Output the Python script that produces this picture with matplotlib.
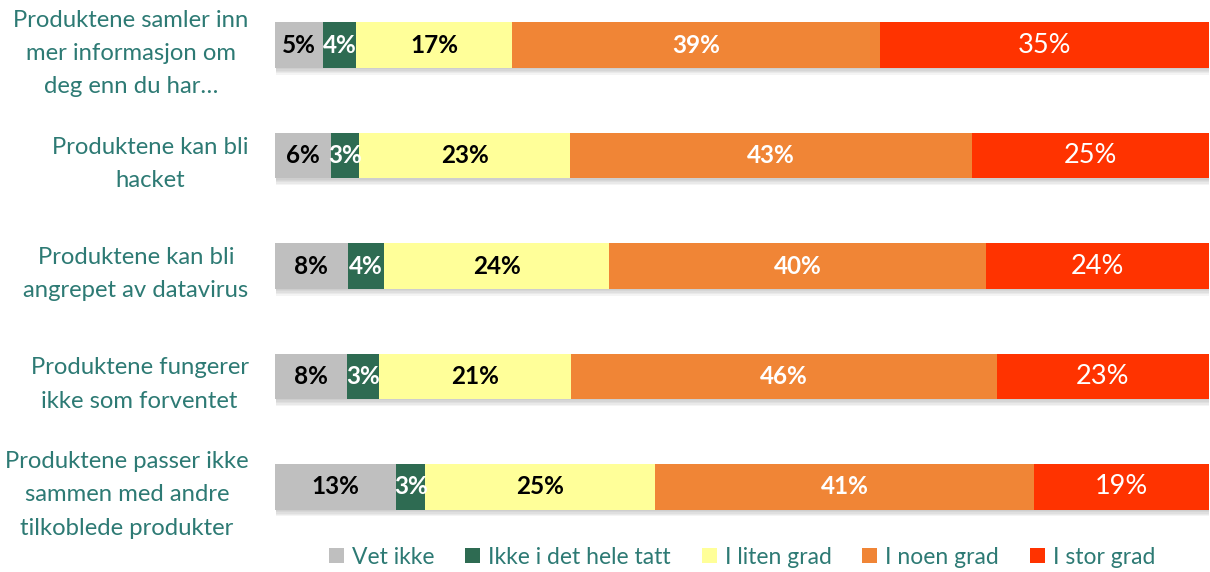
import matplotlib.pyplot as plt
import matplotlib.patheffects as pe

plt.rcParams['font.family'] = ['Lato', 'DejaVu Sans']

# spørsmål (rader, ovenfra og ned)
questions = [
    'Produktene samler inn\nmer informasjon om\ndeg enn du har…',
    'Produktene kan bli\nhacket',
    'Produktene kan bli\nangrepet av datavirus',
    'Produktene fungerer\nikke som forventet',
    'Produktene passer ikke\nsammen med andre\ntilkoblede produkter',
]
series = ['Vet ikke', 'Ikke i det hele tatt', 'I liten grad', 'I noen grad', 'I stor grad']
vet_ikke = [5.1, 6.0, 7.8, 7.7, 13.0]
ikke_i_det_hele_tatt = [3.6, 3.0, 3.9, 3.4, 3.1]
i_liten_grad = [16.7, 22.6, 24.1, 20.6, 24.6]
i_noen_grad = [39.4, 43.0, 40.3, 45.6, 40.6]
i_stor_grad = [35.2, 25.4, 23.9, 22.7, 18.7]

colors = ['#BFBFBF', '#2E6B52', '#FFFF99', '#F08536', '#FF3300']
txt_colors = ['black', 'white', 'black', 'white', 'white']
txt_weight = ['bold', 'bold', 'bold', 'bold', 'normal']
txt_size = [17.5, 17.5, 17.5, 17.5, 19.5]
teal = '#2D7A74'

fig = plt.figure(figsize=(12.1, 5.72), dpi=100)
ax = fig.add_axes([275 / 1210, 1 - 520 / 572, 1 - 275 / 1210 - 0.001, 508 / 572])

data = [vet_ikke, ikke_i_det_hele_tatt, i_liten_grad, i_noen_grad, i_stor_grad]
y = list(range(len(questions)))
left = [0.0] * len(questions)
# myk skygge under stolpene
shadow = [pe.SimplePatchShadow(offset=(1, -k), shadow_rgbFace='#666666', alpha=0.07) for k in (1, 2, 3, 4, 5)]
shadow.append(pe.Normal())
for i, vals in enumerate(data):
    bars = ax.barh(y, vals, left=left, height=0.41, color=colors[i], label=series[i])
    for b in bars:
        b.set_path_effects(shadow)
    for j, v in enumerate(vals):
        ax.text(left[j] + v / 2, y[j], f'{v:.0f}%', ha='center', va='center',
                color=txt_colors[i], fontsize=txt_size[i], fontweight=txt_weight[i])
    left = [a + b for a, b in zip(left, vals)]

ax.set_xlim(0, 100)
ax.set_ylim(4.3, -0.3)
ax.set_yticks(y)
ax.set_yticklabels(questions, fontsize=17.2, color=teal, linespacing=1.72)
for t in ax.get_yticklabels():
    t.set_multialignment('center')
ax.tick_params(axis='y', length=0, pad=19)
ax.set_xticks([])
for s in ax.spines.values():
    s.set_visible(False)

handles, labels = ax.get_legend_handles_labels()
leg = fig.legend(handles, labels, loc='center', bbox_to_anchor=(742 / 1210, 1 - 557 / 572), ncol=5,
                 frameon=False, handlelength=0.65, handleheight=0.65,
                 handletextpad=0.35, columnspacing=1.35, fontsize=16.5)
for t in leg.get_texts():
    t.set_color(teal)
for h in leg.legend_handles:
    h.set_path_effects([])

plt.savefig('out.png', dpi=100)
